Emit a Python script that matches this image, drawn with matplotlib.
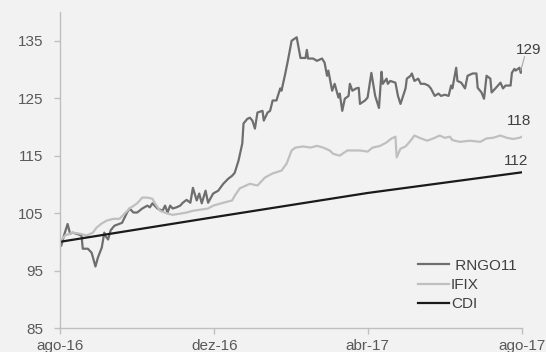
import matplotlib
matplotlib.use("Agg")
import matplotlib.pyplot as plt
import pandas as pd

# ---------------- data ----------------
rngo_dates = [
    "2016-08-01", "2016-08-02", "2016-08-04", "2016-08-07", "2016-08-09", "2016-08-11", "2016-08-14",
    "2016-08-18", "2016-08-19", "2016-08-23", "2016-08-26", "2016-08-29", "2016-08-31", "2016-09-03",
    "2016-09-05", "2016-09-06", "2016-09-08", "2016-09-10", "2016-09-13", "2016-09-19", "2016-09-23",
    "2016-09-25", "2016-09-28", "2016-10-01", "2016-10-05", "2016-10-09", "2016-10-11", "2016-10-13",
    "2016-10-17", "2016-10-21", "2016-10-23", "2016-10-25", "2016-10-27", "2016-10-29", "2016-11-01",
    "2016-11-04", "2016-11-06", "2016-11-09", "2016-11-12", "2016-11-14", "2016-11-17", "2016-11-19",
    "2016-11-21", "2016-11-24", "2016-11-26", "2016-11-30", "2016-12-04", "2016-12-08", "2016-12-12",
    "2016-12-15", "2016-12-17", "2016-12-20", "2016-12-23", "2016-12-24", "2016-12-27", "2016-12-29",
    "2016-12-31", "2017-01-02", "2017-01-04", "2017-01-08", "2017-01-09", "2017-01-12", "2017-01-14",
    "2017-01-16", "2017-01-19", "2017-01-22", "2017-01-23", "2017-01-26", "2017-01-28", "2017-01-31",
    "2017-02-04", "2017-02-07", "2017-02-11", "2017-02-12", "2017-02-13", "2017-02-17", "2017-02-20",
    "2017-02-24", "2017-02-26", "2017-02-28", "2017-03-01", "2017-03-04", "2017-03-06", "2017-03-09",
    "2017-03-10", "2017-03-12", "2017-03-14", "2017-03-17", "2017-03-18", "2017-03-20", "2017-03-23",
    "2017-03-25", "2017-03-26", "2017-03-30", "2017-04-01", "2017-04-04", "2017-04-07", "2017-04-10",
    "2017-04-12", "2017-04-13", "2017-04-16", "2017-04-17", "2017-04-19", "2017-04-23", "2017-04-25",
    "2017-04-27", "2017-05-01", "2017-05-02", "2017-05-05", "2017-05-06", "2017-05-08", "2017-05-11",
    "2017-05-13", "2017-05-16", "2017-05-19", "2017-05-21", "2017-05-24", "2017-05-27", "2017-05-29",
    "2017-06-01", "2017-06-04", "2017-06-06", "2017-06-07", "2017-06-10", "2017-06-11", "2017-06-14",
    "2017-06-17", "2017-06-19", "2017-06-23", "2017-06-26", "2017-06-27", "2017-06-30", "2017-07-02",
    "2017-07-04", "2017-07-07", "2017-07-08", "2017-07-11", "2017-07-13", "2017-07-15", "2017-07-17",
    "2017-07-19", "2017-07-23", "2017-07-24", "2017-07-26", "2017-07-27", "2017-07-30", "2017-07-31",
    "2017-08-01",
]
rngo_values = [
    100.0, 99.3, 101.0, 103.1, 101.4, 101.6, 101.4,
    101.1, 98.8, 98.8, 98.1, 95.7, 97.3, 99.0,
    101.6, 101.0, 100.4, 102.0, 102.8, 103.3, 105.1,
    105.8, 105.1, 105.1, 105.8, 106.3, 106.0, 106.7,
    105.8, 105.4, 106.3, 105.1, 106.3, 105.8, 106.0,
    106.3, 106.8, 107.3, 106.8, 109.4, 107.2, 108.4,
    106.7, 108.9, 106.8, 108.4, 108.9, 110.1, 111.0,
    111.5, 112.0, 114.1, 117.1, 120.6, 121.4, 121.6,
    121.1, 119.7, 122.5, 122.8, 121.1, 122.5, 122.8,
    124.6, 124.6, 126.7, 126.3, 129.3, 131.5, 135.0,
    135.6, 132.0, 132.0, 133.4, 131.9, 131.9, 131.5,
    131.9, 131.2, 128.9, 129.8, 126.3, 127.5, 125.1,
    125.8, 122.8, 124.9, 125.4, 127.5, 126.3, 126.7,
    126.8, 124.0, 124.6, 125.1, 129.4, 125.4, 123.3,
    129.6, 127.5, 128.4, 127.5, 128.0, 127.7, 125.4,
    124.0, 126.7, 128.4, 128.9, 129.3, 128.0, 128.4,
    127.5, 127.5, 127.2, 126.7, 125.4, 125.8, 125.4,
    125.6, 125.4, 127.2, 126.7, 130.3, 128.0, 127.7,
    126.7, 128.9, 129.3, 129.3, 126.8, 126.0, 124.9,
    128.9, 128.4, 126.0, 126.7, 127.2, 127.7, 126.7,
    127.2, 127.2, 129.4, 130.1, 129.8, 130.3, 129.4,
    130.1,
]

ifix_dates = [
    "2016-08-01", "2016-08-05", "2016-08-11", "2016-08-17", "2016-08-22", "2016-08-27", "2016-08-30",
    "2016-09-03", "2016-09-07", "2016-09-12", "2016-09-17", "2016-09-21", "2016-09-25", "2016-10-01",
    "2016-10-05", "2016-10-09", "2016-10-13", "2016-10-15", "2016-10-19", "2016-10-25", "2016-10-29",
    "2016-11-04", "2016-11-09", "2016-11-14", "2016-11-20", "2016-11-26", "2016-11-30", "2016-12-08",
    "2016-12-15", "2016-12-17", "2016-12-21", "2016-12-29", "2017-01-04", "2017-01-10", "2017-01-16",
    "2017-01-23", "2017-01-27", "2017-01-31", "2017-02-03", "2017-02-09", "2017-02-15", "2017-02-20",
    "2017-02-25", "2017-03-02", "2017-03-05", "2017-03-10", "2017-03-16", "2017-03-20", "2017-03-26",
    "2017-04-01", "2017-04-05", "2017-04-11", "2017-04-16", "2017-04-20", "2017-04-23", "2017-04-24",
    "2017-04-27", "2017-05-01", "2017-05-05", "2017-05-08", "2017-05-12", "2017-05-18", "2017-05-23",
    "2017-05-28", "2017-06-01", "2017-06-05", "2017-06-07", "2017-06-13", "2017-06-21", "2017-06-29",
    "2017-07-04", "2017-07-09", "2017-07-15", "2017-07-20", "2017-07-25", "2017-07-30", "2017-08-01",
]
ifix_values = [
    100.0, 101.1, 101.6, 101.4, 101.1, 101.6, 102.5,
    103.2, 103.7, 104.0, 104.0, 104.9, 105.8, 106.7,
    107.7, 107.7, 107.5, 106.7, 105.4, 104.9, 104.7,
    104.9, 105.1, 105.4, 105.6, 105.8, 106.3, 106.8,
    107.2, 108.0, 109.3, 110.1, 109.8, 111.2, 111.9,
    112.4, 113.6, 115.9, 116.4, 116.6, 116.4, 116.7,
    116.4, 115.9, 115.3, 115.0, 115.9, 115.9, 115.9,
    115.7, 116.4, 116.7, 117.3, 118.0, 118.3, 114.7,
    116.2, 116.6, 117.6, 118.5, 118.1, 117.6, 118.0,
    118.5, 118.1, 118.3, 117.7, 117.4, 117.6, 117.4,
    118.0, 118.1, 118.5, 118.1, 117.9, 118.1, 118.3,
]

cdi_dates = ["2016-08-01", "2016-12-01", "2017-04-01", "2017-08-01"]
cdi_values = [100.0, 104.3, 108.5, 112.1]

series_names = [" RNGO11", "IFIX", "CDI"]
end_labels = ["129", "118", "112"]
x_tick_dates = ["2016-08-01", "2016-12-01", "2017-04-01", "2017-08-01"]
x_tick_labels = ["ago-16", "dez-16", "abr-17", "ago-17"]
y_ticks = [85, 95, 105, 115, 125, 135]

# ---------------- style ----------------
BG = "#f2f2f2"
TXT = "#595959"
SPINE = "#bfbfbf"
C_RNGO = "#6e6e6e"
C_IFIX = "#bfbfbf"
C_CDI = "#1a1a1a"

plt.rcParams["font.family"] = ["Liberation Sans", "DejaVu Sans"]
plt.rcParams["font.size"] = 11

fig = plt.figure(figsize=(5.46, 3.52), dpi=100, facecolor=BG)
ax = fig.add_axes([60 / 546, (352 - 328) / 352, (522 - 60) / 546, (328 - 12) / 352])
ax.set_facecolor(BG)

ax.plot(pd.to_datetime(rngo_dates), rngo_values, color=C_RNGO, lw=1.6, label=series_names[0])
ax.plot(pd.to_datetime(ifix_dates), ifix_values, color=C_IFIX, lw=1.6, label=series_names[1])
ax.plot(pd.to_datetime(cdi_dates), cdi_values, color=C_CDI, lw=1.6, label=series_names[2])

ax.set_xlim(pd.Timestamp(x_tick_dates[0]), pd.Timestamp(x_tick_dates[-1]))
ax.set_ylim(85, 140)
ax.set_yticks(y_ticks)
ax.set_xticks(pd.to_datetime(x_tick_dates))
ax.set_xticklabels(x_tick_labels)

for s in ["top", "right"]:
    ax.spines[s].set_visible(False)
for s in ["left", "bottom"]:
    ax.spines[s].set_color(SPINE)
    ax.spines[s].set_linewidth(1.0)
ax.tick_params(axis="both", colors=SPINE, labelcolor=TXT, labelsize=11, length=4, width=1)
ax.tick_params(axis="x", pad=4)
ax.tick_params(axis="y", pad=8)

# end labels
ann_pos = [("2017-08-06", 133.4), ("2017-07-30", 121.1), ("2017-07-27", 114.1)]
for lab, (d, v) in zip(end_labels, ann_pos):
    ax.text(pd.Timestamp(d), v, lab, color="#404040", fontsize=11, ha="center", va="center",
            clip_on=False)
ax.plot(pd.to_datetime(["2017-07-31", "2017-08-03"]), [129.8, 132.2], color="#a6a6a6", lw=0.8,
        clip_on=False)

leg = ax.legend(loc="center left", bbox_to_anchor=(358 / 462, (328 - 285) / 316), frameon=False,
                handlelength=2.0, handletextpad=0.15, labelspacing=0.35, borderpad=0,
                borderaxespad=0, fontsize=11)
for t in leg.get_texts():
    t.set_color("#404040")

fig.savefig("out.png", dpi=100, facecolor=BG)
